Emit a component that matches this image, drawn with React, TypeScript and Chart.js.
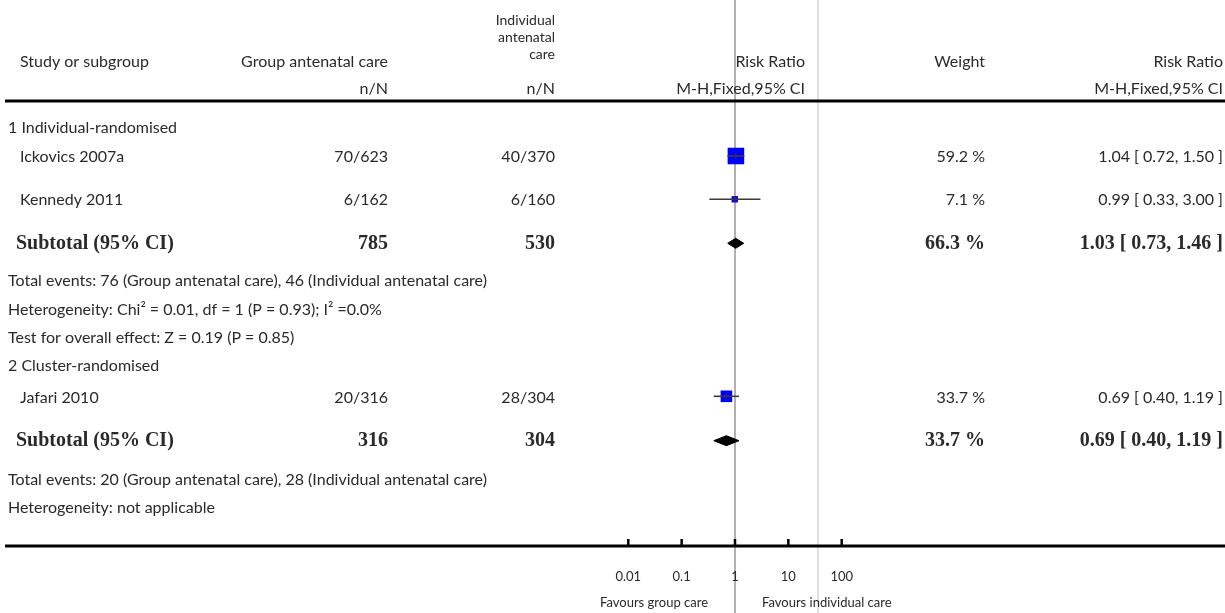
import React, { useEffect, useRef } from "react";
import { Chart, registerables } from "chart.js";
Chart.register(...registerables);

// ---------------- data ----------------
const studies = ["Ickovics 2007a", "Kennedy 2011", "Jafari 2010"];
const studyGroupEvents = ["70/623", "6/162", "20/316"];
const studyIndivEvents = ["40/370", "6/160", "28/304"];
const studyRR = [1.04, 0.99, 0.69];
const studyLo = [0.72, 0.33, 0.4];
const studyHi = [1.5, 3.0, 1.19];
const studyWeight = [59.2, 7.1, 33.7];
const studyCI = ["1.04 [ 0.72, 1.50 ]", "0.99 [ 0.33, 3.00 ]", "0.69 [ 0.40, 1.19 ]"];

const subgroupNames = ["1 Individual-randomised", "2 Cluster-randomised"];
const subtotalGroupN = ["785", "316"];
const subtotalIndivN = ["530", "304"];
const subtotalRR = [1.03, 0.69];
const subtotalLo = [0.73, 0.4];
const subtotalHi = [1.46, 1.19];
const subtotalWeight = ["66.3 %", "33.7 %"];
const subtotalCI = ["1.03 [ 0.73, 1.46 ]", "0.69 [ 0.40, 1.19 ]"];
const subgroupNotes1 = [
  "Total events: 76 (Group antenatal care), 46 (Individual antenatal care)",
  "Heterogeneity: Chi\u00B2 = 0.01, df = 1 (P = 0.93); I\u00B2 =0.0%",
  "Test for overall effect: Z = 0.19 (P = 0.85)",
];
const subgroupNotes2 = [
  "Total events: 20 (Group antenatal care), 28 (Individual antenatal care)",
  "Heterogeneity: not applicable",
];

const axisTicks = [0.01, 0.1, 1, 10, 100];
const axisTickLabels = ["0.01", "0.1", "1", "10", "100"];
const favoursLeft = "Favours group care";
const favoursRight = "Favours individual care";

// ---------------- layout (pixels) ----------------
const W = 1225;
const H = 613;
const ONE_PX = 735;
const PX_PER_DECADE = 53.35;
const STUDY_MARK_Y = [156, 199.3, 396.3];
const STUDY_TEXT_Y = [157, 200, 398];
const SUBTOTAL_MARK_Y = [243.3, 440.7];
const SUBTOTAL_TEXT_Y = [244, 441];
const SUBGROUP_Y = [128, 366];
const NOTES1_Y = [281, 310, 338];
const NOTES2_Y = [480, 508];
const DIAMOND_HALF = 5;
const COL = {
  subgroupX: 8,
  studyX: 20,
  subtotalX: 16,
  noteX: 8,
  groupR: 388,
  indivR: 555,
  rrHeadR: 805,
  weightR: 985,
  ciR: 1223,
};
const TOP_RULE_Y = 101;
const AXIS_Y = 546;
const TICK_LABEL_Y = 577;
const FAVOURS_Y = 603;
const SEP_X = 818;

const SANS = '16px "Lato", "Open Sans", sans-serif';
const HEAD = '14px "Lato", "Open Sans", sans-serif';
const SMALL = '13px "Lato", "Open Sans", sans-serif';
const BOLD = 'bold 20px "Liberation Serif", "DejaVu Serif", serif';
const TEXT = "#2a2a2a";

export default function App() {
  const ref = useRef<HTMLCanvasElement>(null);

  useEffect(() => {
    const canvas = ref.current;
    if (!canvas) return;
    const datasets: any[] = [];

    // confidence interval lines
    studies.forEach((s, i) => {
      datasets.push({
        label: s + " CI",
        data: [
          { x: studyLo[i], y: STUDY_MARK_Y[i] },
          { x: studyHi[i], y: STUDY_MARK_Y[i] },
        ],
        borderColor: "#3a3a3a",
        borderWidth: 1.6,
        pointRadius: 0,
        fill: false,
        order: 1,
      });
    });
    // study squares
    datasets.push({
      label: "Study estimates",
      data: studies.map((_, i) => ({ x: studyRR[i], y: STUDY_MARK_Y[i] })),
      showLine: false,
      pointStyle: "rect",
      pointRadius: studyWeight.map((w) => (5 + 0.195 * w) / Math.SQRT2),
      pointBackgroundColor: "#0000ff",
      pointBorderWidth: 0,
      pointBorderColor: "#0000ff",
      order: 2,
    });
    // estimate ticks inside squares
    datasets.push({
      label: "Estimate marks",
      data: studies.map((_, i) => ({ x: studyRR[i], y: STUDY_MARK_Y[i] })),
      showLine: false,
      pointStyle: "line",
      pointRotation: 90,
      pointRadius: 2.5,
      pointBorderColor: "#333",
      pointBorderWidth: 1.5,
      order: 0,
    });
    // subtotal diamonds
    subtotalRR.forEach((rr, i) => {
      const y = SUBTOTAL_MARK_Y[i];
      const topIndex = datasets.length;
      datasets.push({
        label: "Subtotal top " + i,
        data: [
          { x: subtotalLo[i], y },
          { x: rr, y: y - DIAMOND_HALF },
          { x: subtotalHi[i], y },
        ],
        borderColor: "#000",
        borderWidth: 1,
        pointRadius: 0,
        fill: false,
        order: 3,
      });
      datasets.push({
        label: "Subtotal bottom " + i,
        data: [
          { x: subtotalLo[i], y },
          { x: rr, y: y + DIAMOND_HALF },
          { x: subtotalHi[i], y },
        ],
        borderColor: "#000",
        borderWidth: 1,
        backgroundColor: "#000",
        pointRadius: 0,
        fill: topIndex,
        order: 3,
      });
    });

    const forestPlugin = {
      id: "forestDecor",
      beforeDatasetsDraw(chart: any) {
        const ctx = chart.ctx;
        const xs = chart.scales.x;
        ctx.save();
        // line of no effect
        const x1 = xs.getPixelForValue(1);
        ctx.strokeStyle = "#b0b0b0";
        ctx.lineWidth = 2;
        ctx.beginPath();
        ctx.moveTo(x1, 0);
        ctx.lineTo(x1, H);
        ctx.stroke();
        // panel separator
        ctx.strokeStyle = "#dedede";
        ctx.beginPath();
        ctx.moveTo(SEP_X, 0);
        ctx.lineTo(SEP_X, H);
        ctx.stroke();
        // rules
        ctx.strokeStyle = "#000";
        ctx.lineWidth = 3;
        ctx.beginPath();
        ctx.moveTo(5, TOP_RULE_Y);
        ctx.lineTo(W, TOP_RULE_Y);
        ctx.moveTo(5, AXIS_Y);
        ctx.lineTo(W, AXIS_Y);
        ctx.stroke();
        // ticks
        ctx.lineWidth = 2.5;
        ctx.beginPath();
        axisTicks.forEach((t) => {
          const px = xs.getPixelForValue(t);
          ctx.moveTo(px, AXIS_Y - 7);
          ctx.lineTo(px, AXIS_Y);
        });
        ctx.stroke();
        ctx.restore();
      },
      afterDraw(chart: any) {
        const ctx = chart.ctx;
        const xs = chart.scales.x;
        ctx.save();
        ctx.fillStyle = TEXT;
        ctx.textBaseline = "middle";
        const t = (s: string, x: number, y: number, align: CanvasTextAlign, font = SANS) => {
          ctx.font = font;
          ctx.textAlign = align;
          ctx.fillText(s, x, y);
        };
        // header
        t("Individual", COL.indivR, 20, "right", HEAD);
        t("antenatal", COL.indivR, 37, "right", HEAD);
        t("care", COL.indivR, 54, "right", HEAD);
        t("Study or subgroup", COL.studyX, 62, "left");
        t("Group antenatal care", COL.groupR, 62, "right");
        t("Risk Ratio", COL.rrHeadR, 62, "right");
        t("Weight", COL.weightR, 62, "right");
        t("Risk Ratio", COL.ciR, 62, "right");
        t("n/N", COL.groupR, 89, "right");
        t("n/N", COL.indivR, 89, "right");
        t("M-H,Fixed,95% CI", COL.rrHeadR, 89, "right");
        t("M-H,Fixed,95% CI", COL.ciR, 89, "right");
        // subgroups
        subgroupNames.forEach((s, i) => t(s, COL.subgroupX, SUBGROUP_Y[i], "left"));
        studies.forEach((s, i) => {
          const y = STUDY_TEXT_Y[i];
          t(s, COL.studyX, y, "left");
          t(studyGroupEvents[i], COL.groupR, y, "right");
          t(studyIndivEvents[i], COL.indivR, y, "right");
          t(studyWeight[i].toFixed(1) + " %", COL.weightR, y, "right");
          t(studyCI[i], COL.ciR, y, "right");
        });
        subtotalRR.forEach((_, i) => {
          const y = SUBTOTAL_TEXT_Y[i];
          t("Subtotal (95% CI)", COL.subtotalX, y, "left", BOLD);
          t(subtotalGroupN[i], COL.groupR, y, "right", BOLD);
          t(subtotalIndivN[i], COL.indivR, y, "right", BOLD);
          t(subtotalWeight[i], COL.weightR, y, "right", BOLD);
          t(subtotalCI[i], COL.ciR, y, "right", BOLD);
        });
        subgroupNotes1.forEach((s, i) => t(s, COL.noteX, NOTES1_Y[i], "left"));
        subgroupNotes2.forEach((s, i) => t(s, COL.noteX, NOTES2_Y[i], "left"));
        // axis labels
        axisTicks.forEach((v, i) => t(axisTickLabels[i], xs.getPixelForValue(v), TICK_LABEL_Y, "center", SMALL));
        const x1 = xs.getPixelForValue(1);
        t(favoursLeft, x1 - 27, FAVOURS_Y, "right", SMALL);
        t(favoursRight, x1 + 27, FAVOURS_Y, "left", SMALL);
        ctx.restore();
      },
    };

    const chart = new Chart(canvas, {
      type: "line",
      data: { datasets },
      options: {
        animation: false,
        responsive: false,
        layout: { padding: 0, autoPadding: false },
        events: [],
        plugins: { legend: { display: false }, tooltip: { enabled: false } },
        scales: {
          x: {
            type: "logarithmic",
            display: false,
            bounds: "data",
            min: Math.pow(10, -ONE_PX / PX_PER_DECADE),
            max: Math.pow(10, (W - ONE_PX) / PX_PER_DECADE),
          },
          y: {
            type: "linear",
            display: false,
            bounds: "data",
            reverse: true,
            min: 0,
            max: H,
          },
        },
      },
      plugins: [forestPlugin],
    });
    return () => chart.destroy();
  }, []);

  return (
    <div style={{ position: "absolute", left: 0, top: 0, width: W, height: H, background: "#fff" }}>
      <canvas ref={ref} width={W} height={H} style={{ display: "block" }} />
    </div>
  );
}
